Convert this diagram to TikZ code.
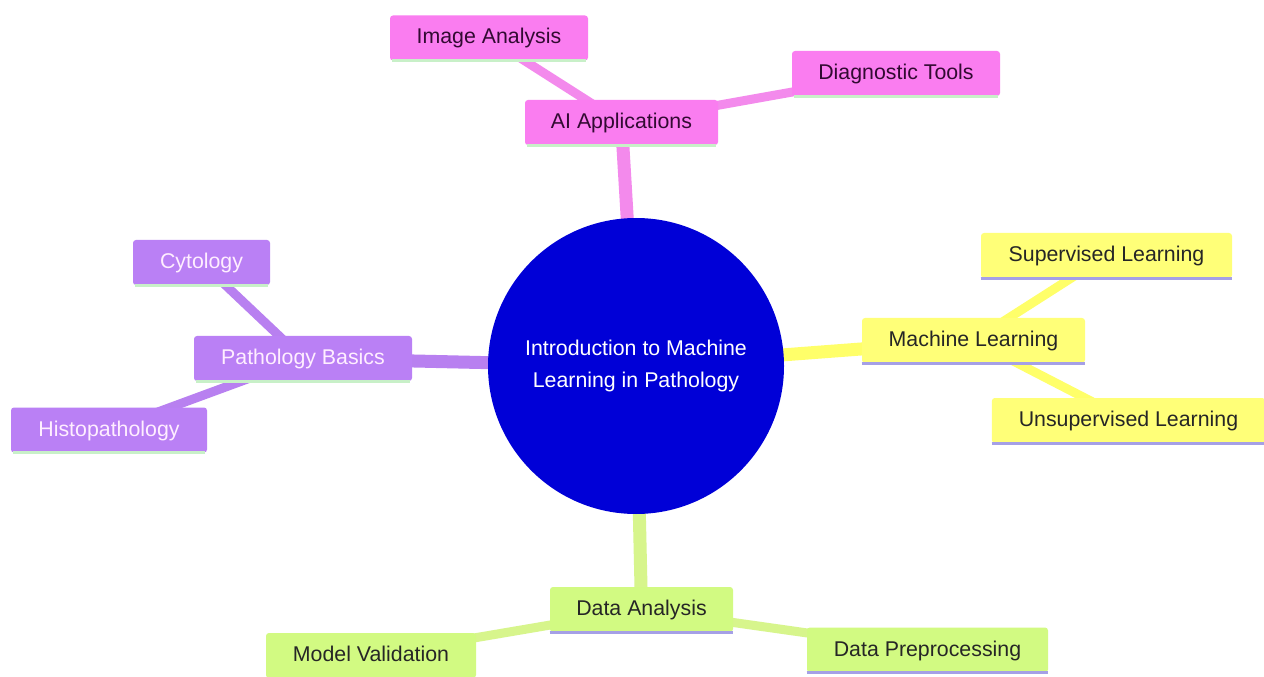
\documentclass[tikz,border=0pt]{standalone}
\usepackage{fontspec}
\setmainfont{Liberation Sans}
\usetikzlibrary{backgrounds}
\definecolor{pinkF}{RGB}{250,125,240}
\definecolor{pinkL}{RGB}{243,138,236}
\definecolor{pinkT}{RGB}{50,10,50}
\definecolor{yelF}{RGB}{255,255,120}
\definecolor{yelL}{RGB}{255,255,105}
\definecolor{purF}{RGB}{186,128,245}
\definecolor{purL}{RGB}{184,128,240}
\definecolor{purT}{RGB}{255,238,255}
\definecolor{grnF}{RGB}{210,250,130}
\definecolor{grnL}{RGB}{215,245,140}
\definecolor{greenB}{RGB}{200,240,200}
\definecolor{lavB}{RGB}{165,160,230}
\definecolor{coreB}{RGB}{0,0,215}
\tikzset{
  box/.style={rectangle, rounded corners=2.25pt, minimum height=33.75pt, inner sep=0pt,
    text height=11.6pt, text depth=2.6pt,
    font=\fontsize{16}{18}\selectfont},
  pinkbox/.style={box, fill=pinkF, text=pinkT,
    append after command={(\tikzlastnode.south west) edge[draw=greenB, line width=2pt, shorten <=1.5pt, shorten >=1.5pt] (\tikzlastnode.south east)}},
  yelbox/.style={box, fill=yelF, text=black!85,
    append after command={(\tikzlastnode.south west) edge[draw=lavB, line width=2.4pt] (\tikzlastnode.south east)}},
  purbox/.style={box, fill=purF, text=purT,
    append after command={(\tikzlastnode.south west) edge[draw=greenB, line width=2pt, shorten <=1.5pt, shorten >=1.5pt] (\tikzlastnode.south east)}},
  grnbox/.style={box, fill=grnF, text=black!85,
    append after command={(\tikzlastnode.south west) edge[draw=lavB, line width=2.4pt] (\tikzlastnode.south east)}},
  trunk/.style={line width=9.75pt},
  twig/.style={line width=6.75pt},
}
\begin{document}
\begin{tikzpicture}[x=0.75pt, y=-0.75pt]
\useasboundingbox (0,0) rectangle (1264,677);
% central
\node[circle, fill=coreB, minimum size=222pt, inner sep=0pt, text=white, align=center,
  font=\fontsize{16}{24}\selectfont] (core) at (636,366) {\raisebox{-1.2pt}{Introduction to Machine}\\\raisebox{-1.2pt}{Learning in Pathology}};
% AI applications
\node[pinkbox, minimum width=144.75pt] (ai) at (621.5,122.5) {AI Applications};
\node[pinkbox, minimum width=148.5pt] (img) at (489,38) {Image Analysis};
\node[pinkbox, minimum width=156pt] (diag) at (896,73.5) {Diagnostic Tools};
% Machine learning
\node[yelbox, minimum width=167.25pt] (ml) at (973.5,340.5) {Machine Learning};
\node[yelbox, minimum width=188.25pt] (sup) at (1106.5,255.5) {Supervised Learning};
\node[yelbox, minimum width=205pt] (unsup) at (1128.5,420.5) {Unsupervised Learning};
% Pathology basics
\node[purbox, minimum width=163.5pt] (pb) at (303,358.5) {Pathology Basics};
\node[purbox, minimum width=102.75pt] (cyt) at (201.5,262.5) {Cytology};
\node[purbox, minimum width=147pt] (histo) at (109,430) {Histopathology};
% Data analysis
\node[grnbox, minimum width=137.25pt] (da) at (641.5,609.5) {Data Analysis};
\node[grnbox, minimum width=157.5pt] (mv) at (371,655.5) {Model Validation};
\node[grnbox, minimum width=180.75pt] (dp) at (927.5,650) {Data Preprocessing};
% connectors
\begin{scope}[on background layer]
\fill[white] (0,0) rectangle (1264,677);
\draw[trunk, pinkL] (core.center) -- (ai.center);
\draw[twig, pinkL] (ai.center) -- (img.center);
\draw[twig, pinkL] (ai.center) -- (diag.center);
\draw[trunk, yelL] (core.center) -- (ml.center);
\draw[twig, yelL] (ml.center) -- (sup.center);
\draw[twig, yelL] (ml.center) -- (unsup.center);
\draw[trunk, purL] (core.center) -- (pb.center);
\draw[twig, purL] (pb.center) -- (cyt.center);
\draw[twig, purL] (pb.center) -- (histo.center);
\draw[trunk, grnL] (core.center) -- (da.center);
\draw[twig, grnL] (da.center) -- (mv.center);
\draw[twig, grnL] (da.center) -- (dp.center);
\end{scope}
\end{tikzpicture}
\end{document}
